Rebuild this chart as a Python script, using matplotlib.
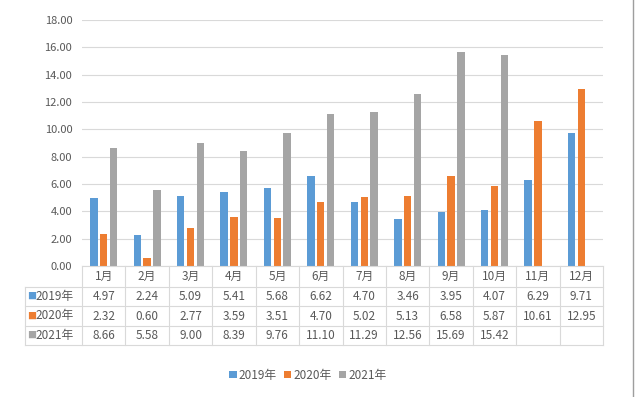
import matplotlib
matplotlib.use('Agg')
import matplotlib.pyplot as plt
import matplotlib.transforms as mtransforms
from matplotlib.lines import Line2D
from matplotlib.patches import Patch
import numpy as np

plt.rcParams['font.family'] = ['Noto Sans CJK SC', 'DejaVu Sans']

months = ['1月', '2月', '3月', '4月', '5月', '6月', '7月', '8月', '9月', '10月', '11月', '12月']
series_names = ['2019年', '2020年', '2021年']
v2019 = [4.97, 2.24, 5.09, 5.41, 5.68, 6.62, 4.70, 3.46, 3.95, 4.07, 6.29, 9.71]
v2020 = [2.32, 0.60, 2.77, 3.59, 3.51, 4.70, 5.02, 5.13, 6.58, 5.87, 10.61, 12.95]
v2021 = [8.66, 5.58, 9.00, 8.39, 9.76, 11.10, 11.29, 12.56, 15.69, 15.42, None, None]
yticks = [0, 2, 4, 6, 8, 10, 12, 14, 16, 18]
colors = ['#5B9BD5', '#ED7D31', '#A5A5A5']

W, H = 636, 397
fig = plt.figure(figsize=(W / 100, H / 100), dpi=100)
fig.patch.set_facecolor('white')

ax = fig.add_axes([82 / W, (H - 266) / H, (603 - 82) / W, 246 / H])
x = np.arange(len(months))
bw = 0.17
step = 0.225
all_series = [v2019, v2020, v2021]
for k, (vals, c) in enumerate(zip(all_series, colors)):
    v = [np.nan if a is None else a for a in vals]
    ax.bar(x + (k - 1) * step, v, bw, color=c, zorder=3)

ax.set_xlim(-0.5, len(months) - 0.5)
ax.set_ylim(0, 18)
ax.set_yticks(yticks)
ax.set_yticklabels([f'{t:.2f}' for t in yticks])
ax.tick_params(axis='y', length=0, labelsize=8, colors='#595959', pad=7)
ax.set_xticks([])
ax.grid(axis='y', color='#D9D9D9', lw=0.8, zorder=0)
for s in ax.spines.values():
    s.set_visible(False)

# data table
def fy(p):
    return 1 - p / H

def fx(p):
    return p / W

row_edges = [266, 287, 306, 326, 345]
line_color = '#D9D9D9'
text_color = '#595959'
bt = mtransforms.blended_transform_factory(ax.transData, fig.transFigure)

# horizontal lines
fig.add_artist(Line2D([fx(82), fx(603)], [fy(266), fy(266)], transform=fig.transFigure, color=line_color, lw=0.8))
for ye in row_edges[1:]:
    fig.add_artist(Line2D([fx(25), fx(603)], [fy(ye), fy(ye)], transform=fig.transFigure, color=line_color, lw=0.8))
# vertical lines
fig.add_artist(Line2D([fx(25), fx(25)], [fy(287), fy(345)], transform=fig.transFigure, color=line_color, lw=0.8))
for i in range(len(months) + 1):
    fig.add_artist(Line2D([i - 0.5, i - 0.5], [fy(266), fy(345)], transform=bt, color=line_color, lw=0.8))

# header
for i, m in enumerate(months):
    fig.text(i, fy((row_edges[0] + row_edges[1]) / 2), m, transform=bt, ha='center', va='center',
             fontsize=8.5, color=text_color)
# rows
for r, (name, vals, c) in enumerate(zip(series_names, all_series, colors)):
    yc = fy((row_edges[r + 1] + row_edges[r + 2]) / 2)
    fig.text(fx(27), yc, '■', transform=fig.transFigure, ha='left', va='center', fontsize=6.5, color=c)
    fig.text(fx(35), yc, name, transform=fig.transFigure, ha='left', va='center', fontsize=8.5, color=text_color)
    for i, v in enumerate(vals):
        if v is not None:
            fig.text(i, yc, f'{v:.2f}', transform=bt, ha='center', va='center', fontsize=8.5, color=text_color)

# legend
handles = [Patch(facecolor=c, edgecolor='none') for c in colors]
fig.legend(handles, series_names, loc='center', bbox_to_anchor=(fx(308), fy(375)), ncol=3, frameon=False,
           fontsize=8.5, handlelength=0.6, handleheight=0.6, handletextpad=0.2, columnspacing=0.6,
           labelcolor=text_color)

# right border line of the image
fig.add_artist(Line2D([fx(633), fx(633)], [0, 1], transform=fig.transFigure, color='#9E9E9E', lw=1))

fig.savefig('out.png', dpi=100, facecolor='white')
